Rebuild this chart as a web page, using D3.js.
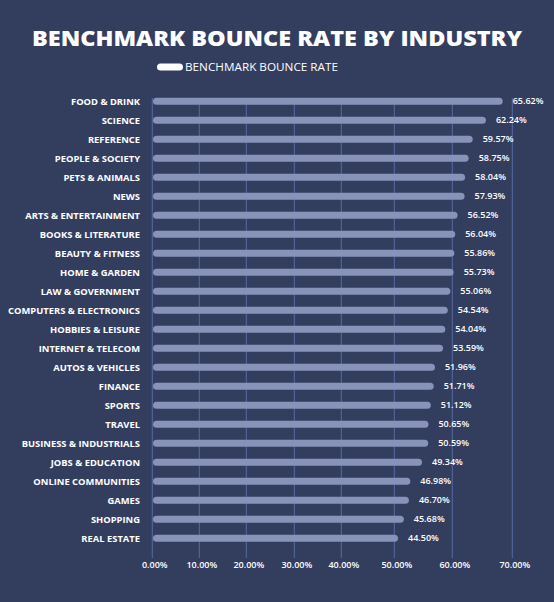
<!DOCTYPE html>
<html>
<head>
<meta charset="utf-8">
<script src="https://cdn.jsdelivr.net/npm/d3@7"></script>
<style>
  html, body { margin: 0; padding: 0; background: #333e5f; }
  svg { display: block; }
  text { font-family: "Open Sans", "DejaVu Sans", sans-serif; fill: #ffffff; }
</style>
</head>
<body>
<svg id="chart" width="554" height="602"></svg>
<script>
const title = "BENCHMARK BOUNCE RATE BY INDUSTRY";
const seriesName = "BENCHMARK BOUNCE RATE";
const categories = [
  "FOOD & DRINK", "SCIENCE", "REFERENCE", "PEOPLE & SOCIETY", "PETS & ANIMALS",
  "NEWS", "ARTS & ENTERTAINMENT", "BOOKS & LITERATURE", "BEAUTY & FITNESS",
  "HOME & GARDEN", "LAW & GOVERNMENT", "COMPUTERS & ELECTRONICS", "HOBBIES & LEISURE",
  "INTERNET & TELECOM", "AUTOS & VEHICLES", "FINANCE", "SPORTS", "TRAVEL",
  "BUSINESS & INDUSTRIALS", "JOBS & EDUCATION", "ONLINE COMMUNITIES", "GAMES",
  "SHOPPING", "REAL ESTATE"
];
const values = [
  65.62, 62.24, 59.57, 58.75, 58.04, 57.93, 56.52, 56.04, 55.86, 55.73, 55.06,
  54.54, 54.04, 53.59, 51.96, 51.71, 51.12, 50.65, 50.59, 49.34, 46.98, 46.70,
  45.68, 44.50
];
const tickValues = [0, 10, 20, 30, 40, 50, 60, 70];
const tickLabels = ["0.00%", "10.00%", "20.00%", "30.00%", "40.00%", "50.00%", "60.00%", "70.00%"];

const svg = d3.select("#chart");
const W = 554, H = 602;

svg.append("rect").attr("width", W).attr("height", H).attr("fill", "#333e5f");

// Title
svg.append("text")
  .attr("x", 277).attr("y", 46)
  .attr("text-anchor", "middle")
  .attr("font-size", 21).attr("font-weight", 800)
  .attr("textLength", 490).attr("lengthAdjust", "spacingAndGlyphs")
  .text(title);

// Legend
svg.append("rect")
  .attr("x", 157).attr("y", 63.5).attr("width", 26).attr("height", 7)
  .attr("rx", 3.5).attr("fill", "#ffffff");
svg.append("text")
  .attr("x", 185).attr("y", 71)
  .attr("font-size", 10.5).attr("font-weight", 400)
  .attr("textLength", 153).attr("lengthAdjust", "spacingAndGlyphs")
  .text(seriesName);

// Scales
// axis (gridline/tick) scale: piecewise as drawn in the reference
const xAxisScale = d3.scaleLinear()
  .domain(tickValues)
  .range([152.3, 199.3, 246.3, 294.3, 341.3, 394.3, 452.3, 512.3]);
// bar length scale
const xBar = d3.scaleLinear().domain([0, 70]).range([177.4, 524.4]);

const rowH = 19;
const y = d3.scaleBand().domain(categories).range([91.8, 91.8 + rowH * categories.length]).padding(0);

// Gridlines
svg.append("g").selectAll("line")
  .data(tickValues)
  .join("line")
  .attr("x1", d => xAxisScale(d)).attr("x2", d => xAxisScale(d))
  .attr("y1", 98).attr("y2", 558)
  .attr("stroke", "#5669a3").attr("stroke-width", 1);

// Axis labels
const axis = d3.axisBottom(xAxisScale)
  .tickValues(tickValues)
  .tickFormat((d, i) => tickLabels[i])
  .tickSize(0).tickPadding(0);
const gAxis = svg.append("g").attr("transform", "translate(2,562)").call(axis);
gAxis.select(".domain").remove();
gAxis.selectAll("text")
  .attr("font-size", 9).attr("font-weight", 600)
  .attr("fill", "#ffffff")
  .style("font-family", '"Open Sans", sans-serif')
  .attr("dy", "0.71em");

// Bars
const bh = 7;
svg.append("g").selectAll("rect")
  .data(categories)
  .join("rect")
  .attr("x", 153)
  .attr("y", (d) => y(d) + y.bandwidth() / 2 - bh / 2)
  .attr("width", (d, i) => xBar(values[i]) - 153)
  .attr("height", bh)
  .attr("rx", bh / 2)
  .attr("fill", "#8793b8");

// Category labels
svg.append("g").selectAll("text")
  .data(categories)
  .join("text")
  .attr("x", 140)
  .attr("y", d => y(d) + y.bandwidth() / 2)
  .attr("dy", "0.35em")
  .attr("text-anchor", "end")
  .attr("font-size", 9.4).attr("font-weight", 700)
  .text(d => d);

// Value labels
svg.append("g").selectAll("text")
  .data(categories)
  .join("text")
  .attr("x", (d, i) => xBar(values[i]) + 10)
  .attr("y", d => y(d) + y.bandwidth() / 2)
  .attr("dy", "0.35em")
  .attr("font-size", 9).attr("font-weight", 600)
  .text((d, i) => values[i].toFixed(2) + "%");
</script>
</body>
</html>
